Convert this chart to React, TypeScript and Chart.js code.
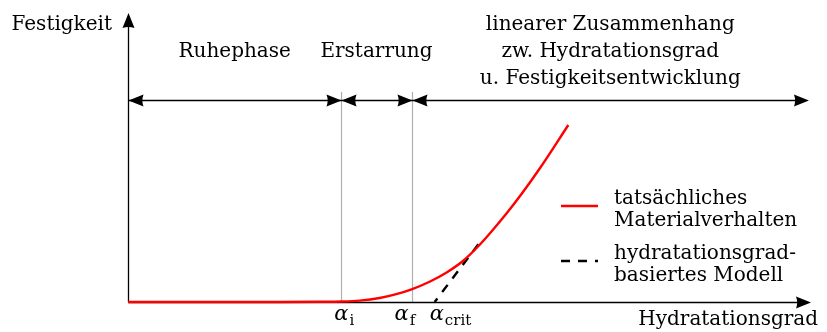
import React, { useEffect, useRef } from "react";
import { Chart, registerables } from "chart.js";

Chart.register(...registerables);

// ---- data (x: normalised degree of hydration, y: normalised strength) ----
const curveX = [0, 0.2222, 0.2807, 0.3124, 0.3392, 0.3684, 0.3928, 0.4152, 0.4415, 0.4659, 0.4904, 0.5146, 0.5341, 0.5541, 0.5775, 0.6023, 0.6447];
const curveY = [0, 0.0001, 0.0007, 0.0017, 0.0048, 0.0138, 0.0272, 0.0439, 0.0702, 0.1014, 0.1419, 0.1972, 0.2491, 0.3058, 0.3779, 0.4602, 0.6125];
// model line drawn from its upper end down to alpha_crit
const modelX = [0.513, 0.449];
const modelY = [0.2, 0];

const alphaI = 0.3124;
const alphaF = 0.4152;
const alphaCrit = 0.449;
const phaseEnd = 0.997;
const phaseLevel = 0.7;
const markerTop = 0.727;

const phaseLabels = [
  ["Ruhephase"],
  ["Erstarrung"],
  ["linearer Zusammenhang", "zw. Hydratationsgrad", "u. Festigkeitsentwicklung"],
];
const legendLabels = [
  ["tatsächliches", "Materialverhalten"],
  ["hydratationsgrad-", "basiertes Modell"],
];
const alphaLabels = [
  { value: alphaI, sub: "i" },
  { value: alphaF, sub: "f" },
  { value: alphaCrit, sub: "crit" },
];
const yTitle = "Festigkeit";
const xTitle = "Hydratationsgrad";

const FONT = '"DejaVu Serif", "Liberation Serif", serif';
const RED = "#ff0000";
const DASH = [9, 8];

function arrowHead(ctx: CanvasRenderingContext2D, tx: number, ty: number, dx: number, dy: number) {
  const len = 15;
  const half = 6;
  const bx = tx - dx * len;
  const by = ty - dy * len;
  const nx = -dy;
  const ny = dx;
  ctx.beginPath();
  ctx.moveTo(tx, ty);
  ctx.lineTo(bx + nx * half, by + ny * half);
  ctx.quadraticCurveTo(tx - dx * len * 0.85, ty - dy * len * 0.85, bx - nx * half, by - ny * half);
  ctx.closePath();
  ctx.fill();
}

const overlay = {
  id: "overlay",
  beforeDatasetsDraw(chart: any) {
    const { ctx, scales } = chart;
    const x = scales.x;
    const y = scales.y;
    const x0 = Math.round(x.getPixelForValue(0)) + 0.5;
    const y0 = Math.round(y.getPixelForValue(0)) + 0.5;
    const xEnd = x.getPixelForValue(x.max);
    const yEnd = y.getPixelForValue(y.max);
    ctx.save();
    // gray markers
    ctx.strokeStyle = "#b0b0b0";
    ctx.lineWidth = 1.2;
    for (const a of [alphaI, alphaF]) {
      const px = Math.round(x.getPixelForValue(a)) + 0.5;
      ctx.beginPath();
      ctx.moveTo(px, y.getPixelForValue(markerTop));
      ctx.lineTo(px, y0);
      ctx.stroke();
    }
    // axes
    ctx.strokeStyle = "#000";
    ctx.fillStyle = "#000";
    ctx.lineWidth = 1.3;
    ctx.beginPath();
    ctx.moveTo(x0, y0);
    ctx.lineTo(xEnd - 8, y0);
    ctx.moveTo(x0, y0);
    ctx.lineTo(x0, yEnd + 8);
    ctx.stroke();
    arrowHead(ctx, xEnd, y0, 1, 0);
    arrowHead(ctx, x0, yEnd, 0, -1);
    // phase arrows
    const py = Math.round(y.getPixelForValue(phaseLevel)) + 0.5;
    const pe = x.getPixelForValue(phaseEnd);
    ctx.beginPath();
    ctx.moveTo(x0, py);
    ctx.lineTo(pe - 8, py);
    ctx.stroke();
    arrowHead(ctx, x0, py, -1, 0);
    for (const a of [alphaI, alphaF]) {
      const px = Math.round(x.getPixelForValue(a)) + 0.5;
      arrowHead(ctx, px, py, 1, 0);
      arrowHead(ctx, px, py, -1, 0);
    }
    arrowHead(ctx, pe, py, 1, 0);
    ctx.restore();
  },
  afterDatasetsDraw(chart: any) {
    const { ctx, scales } = chart;
    const x = scales.x;
    const y = scales.y;
    const x0 = x.getPixelForValue(0);
    const y0 = y.getPixelForValue(0);
    const xEnd = x.getPixelForValue(x.max);
    const yEnd = y.getPixelForValue(y.max);
    ctx.save();
    ctx.fillStyle = "#000";
    ctx.textBaseline = "alphabetic";
    ctx.font = `20px ${FONT}`;
    // axis titles
    ctx.textAlign = "right";
    ctx.fillText(yTitle, x0 - 16, yEnd + 17);
    ctx.fillText(xTitle, xEnd + 7, y0 + 23);
    // phase labels
    ctx.textAlign = "center";
    const bounds = [0, alphaI, alphaF, phaseEnd];
    phaseLabels.forEach((lines, i) => {
      const cx = (x.getPixelForValue(bounds[i]) + x.getPixelForValue(bounds[i + 1])) / 2;
      lines.forEach((t, j) => {
        ctx.fillText(t, cx, 57 + (j - (lines.length - 1) / 2) * 27);
      });
    });
    // alpha labels
    ctx.textAlign = "left";
    const offs = [-7, -17, -5];
    alphaLabels.forEach((a, i) => {
      const ax = x.getPixelForValue(a.value) + offs[i];
      ctx.font = `italic 21px ${FONT}`;
      ctx.fillText("α", ax, y0 + 18);
      const w = ctx.measureText("α").width;
      ctx.font = `15px ${FONT}`;
      ctx.fillText(a.sub, ax + w + 1, y0 + 23);
    });
    // legend
    const lx = 561;
    const ll = 37;
    const tx = 614;
    const entryY = [206, 261];
    ctx.lineWidth = 2.4;
    entryY.forEach((ly, i) => {
      ctx.beginPath();
      ctx.strokeStyle = i === 0 ? RED : "#000";
      ctx.setLineDash(i === 0 ? [] : DASH);
      ctx.moveTo(lx, ly);
      ctx.lineTo(lx + ll, ly);
      ctx.stroke();
      ctx.setLineDash([]);
      ctx.font = `20px ${FONT}`;
      legendLabels[i].forEach((t, j) => {
        ctx.fillText(t, tx, ly - 2 + j * 21.5);
      });
    });
    ctx.restore();
  },
};

export default function App() {
  const ref = useRef<HTMLCanvasElement | null>(null);
  useEffect(() => {
    document.body.style.margin = "0";
    const canvas = ref.current!;
    const chart = new Chart(canvas, {
      type: "line",
      data: {
        datasets: [
          {
            label: "tatsächliches Materialverhalten",
            data: curveX.map((v, i) => ({ x: v, y: curveY[i] })),
            borderColor: RED,
            borderWidth: 2.4,
            pointRadius: 0,
            cubicInterpolationMode: "monotone",
            clip: false as any,
            order: 1,
          },
          {
            label: "hydratationsgradbasiertes Modell",
            data: modelX.map((v, i) => ({ x: v, y: modelY[i] })),
            borderColor: "#000",
            borderWidth: 2.4,
            borderDash: DASH,
            pointRadius: 0,
            clip: false as any,
            order: 2,
          },
        ],
      },
      options: {
        animation: false,
        responsive: false,
        events: [],
        layout: { padding: { left: 128, right: 16, top: 13, bottom: 30 } },
        scales: {
          x: { type: "linear", min: 0, max: 1, display: false },
          y: { type: "linear", min: 0, max: 1, display: false },
        },
        plugins: { legend: { display: false }, tooltip: { enabled: false } },
      },
      plugins: [overlay],
    });
    return () => chart.destroy();
  }, []);
  return <canvas ref={ref} width={827} height={332} style={{ display: "block" }} />;
}
